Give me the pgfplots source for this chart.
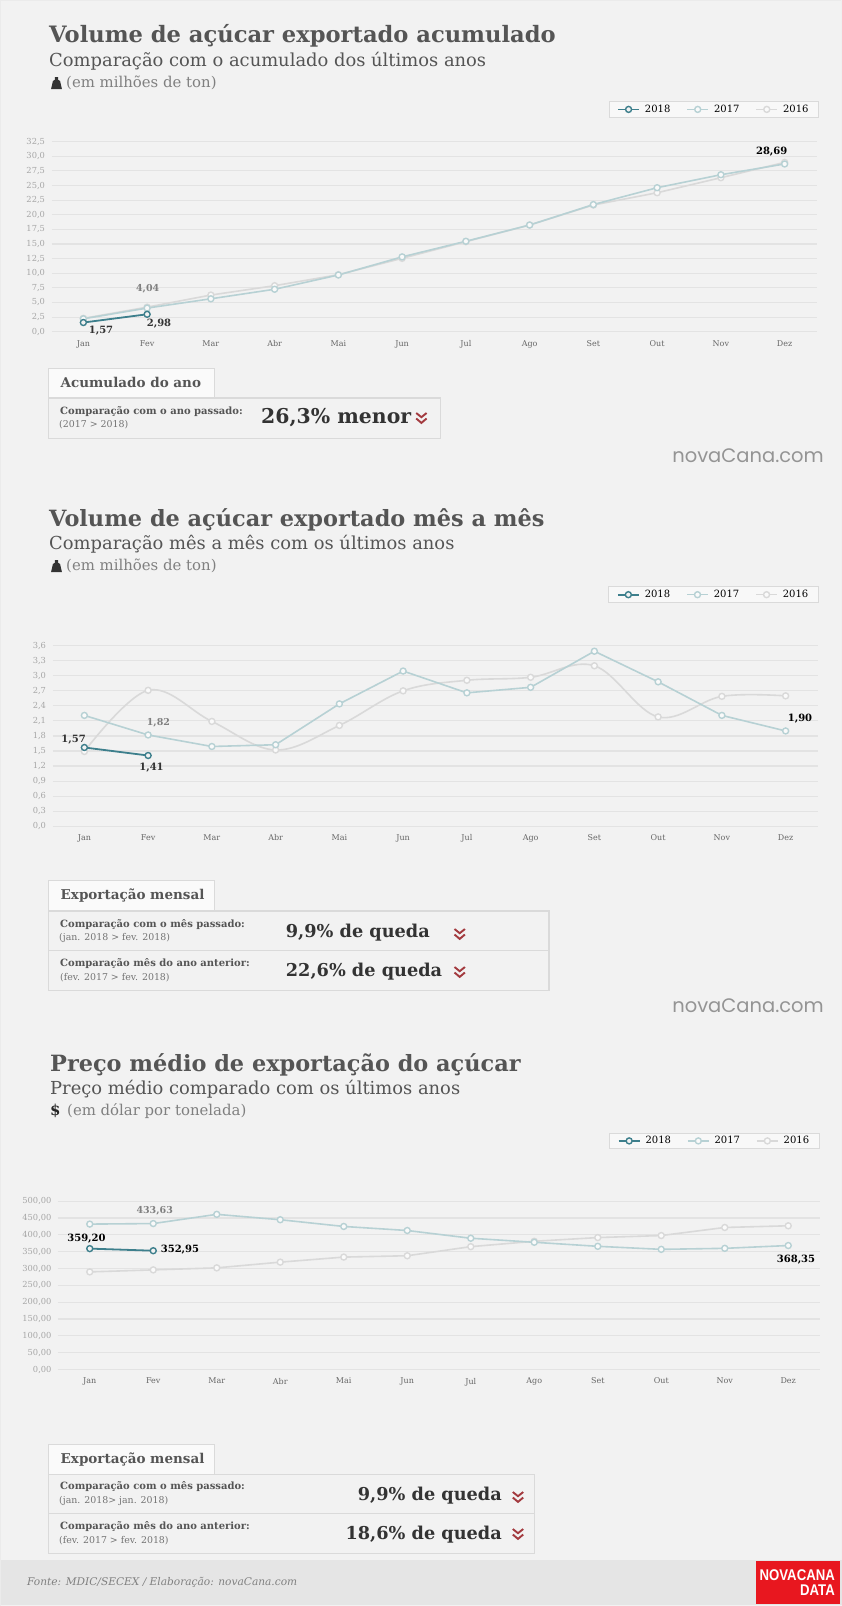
\documentclass[border=0pt]{standalone}
\usepackage{pgfplots}
\pgfplotsset{compat=1.18}
\usepackage{fontspec}
\setmainfont{DejaVu Serif}
\newfontfamily\nc{Poppins}
\newfontfamily\logof{Liberation Sans}[FakeStretch=0.85]
\definecolor{bg}{HTML}{F2F2F2}
\definecolor{gridc}{HTML}{E3E3E3}
\definecolor{cA}{HTML}{3D7F8C}
\definecolor{cB}{HTML}{B7D1D4}
\definecolor{cC}{HTML}{D9D9D9}
\definecolor{titlec}{HTML}{555555}
\definecolor{redc}{HTML}{A33A3F}
\definecolor{boxc}{HTML}{DADADA}
\definecolor{logor}{HTML}{E8171F}
\newcommand{\fs}[1]{\fontsize{#1pt}{#1pt}\selectfont}
\newcommand{\T}[4]{\node[inner sep=0pt,#3] at (#1pt,-#2pt) {#4};}
\newcommand{\chev}[2]{\begin{scope}[shift={(#1pt,-#2pt)},draw=redc,line width=1.9pt]
\draw (-5.2pt,5pt)--(0pt,0.8pt)--(5.2pt,5pt);\draw (-5.2pt,-0.5pt)--(0pt,-4.9pt)--(5.2pt,-0.5pt);\end{scope}}
\newcommand{\weight}[2]{\begin{scope}[shift={(#1pt,-#2pt)}]
\fill[black!80] (-5.4pt,-6pt)--(5.4pt,-6pt)--(3.6pt,2pt)--(1.6pt,3.2pt)--(1.6pt,6pt)--(-1.6pt,6pt)--(-1.6pt,3.2pt)--(-3.6pt,2pt)--cycle;\end{scope}}
\pgfplotsset{
 chart/.style={scale only axis,clip=false,enlargelimits=false,xmin=-0.5,xmax=11.5,
  xtick={0,...,11},xticklabels={Jan,Fev,Mar,Abr,Mai,Jun,Jul,Ago,Set,Out,Nov,Dez},
  axis line style={draw=none},major tick length=0pt,ymajorgrids,
  grid style={gridc,line width=1.1pt},
  xticklabel style={font=\fs{8},text=black!60,yshift=-5pt},
  yticklabel style={font=\fs{8.3},text=black!35,xshift=-3pt},
  tick label style={/pgf/number format/assume math mode=true},
  legend columns=3,reverse legend,
  legend image code/.code={\draw[mark repeat=2,mark phase=2,##1] plot coordinates {(0pt,0pt)(10.5pt,0pt)(21pt,0pt)};},
  legend style={draw=boxc,fill=bg!50!white,font=\fs{10},inner xsep=8pt,inner ysep=1.4pt,line width=1pt,
    /tikz/every even column/.append style={column sep=14pt},
    /tikz/every odd column/.append style={column sep=3pt}},
 },
 s18/.style={color=cA,line width=1.8pt,mark=*,mark size=3pt,mark options={fill=bg,draw=cA,line width=1.4pt,solid}},
 s17/.style={color=cB,line width=1.6pt,mark=*,mark size=3pt,mark options={fill=bg!40!white,draw=cB,line width=1.4pt,solid}},
 s16/.style={color=cC,line width=1.6pt,mark=*,mark size=3pt,mark options={fill=bg!40!white,draw=cC,line width=1.4pt,solid}},
}
\begin{document}
\begin{tikzpicture}[x=1pt,y=1pt]
\useasboundingbox (0,0) rectangle (842pt,-1606pt);
\fill[bg] (0,0) rectangle (842pt,-1606pt);
\draw[black!8,line width=2pt] (0,0)--(842pt,0);
\draw[black!8,line width=2pt] (0,0)--(0,-1606pt);
\draw[black!6,line width=2pt] (842pt,0)--(842pt,-1606pt);

% ---------- chart 1
\begin{axis}[chart,at={(51.5pt,-331.7pt)},anchor=south west,width=765pt,height=190pt,
 ymin=0,ymax=32.5,ytick={0,2.5,...,32.5},
 yticklabel style={/pgf/number format/.cd,fixed,fixed zerofill,precision=1,use comma},
 legend style={at={(1.0033,1.214)},anchor=north east}]
\addplot[s16] coordinates {(0,2.28)(1,4.2)(2,6.27)(3,7.87)(4,9.75)(5,12.55)(6,15.4)(7,18.25)(8,21.67)(9,23.77)(10,26.34)(11,28.96)};
\addplot[s17] coordinates {(0,2.21)(1,4.04)(2,5.63)(3,7.26)(4,9.7)(5,12.8)(6,15.47)(7,18.25)(8,21.75)(9,24.63)(10,26.85)(11,28.69)};
\addplot[s18] coordinates {(0,1.57)(1,2.98)};
\legend{2016,2017,2018}
\end{axis}
\T{49}{36}{anchor=west}{\fs{22.6}\bfseries\color{titlec}Volume de açúcar exportado acumulado}
\T{49}{61}{anchor=west}{\fs{17.9}\color{titlec}Comparação com o acumulado dos últimos anos}
\weight{56.5}{83}
\T{66}{83}{anchor=west}{\fs{14.9}\color{black!50}(em milhões de ton)}
\T{101}{331}{}{\fs{10}\bfseries\color{black!80}1,57}
\T{159}{324}{}{\fs{10}\bfseries\color{black!80}2,98}
\T{147.7}{289}{}{\fs{9.5}\bfseries\color{black!50}4,04}
\T{771.7}{151.7}{}{\fs{10}\bfseries\color{black}28,69}
\draw[boxc,fill=bg!40!white,line width=1pt] (48.3pt,-398pt)--(48.3pt,-368pt)--(214pt,-368pt)--(214pt,-398pt)--cycle;
\draw[boxc,line width=1.2pt] (48.3pt,-398pt) rectangle (440.4pt,-438.3pt);
\T{60.5}{382.5}{anchor=west}{\fs{13.5}\bfseries\color{titlec}Acumulado do ano}
\T{60}{412}{anchor=west}{\fs{10}\bfseries\color{titlec}Comparação com o ano passado:}
\T{59}{425}{anchor=west}{\fs{9.4}\color{black!55}(2017 > 2018)}
\T{261}{418}{anchor=west}{\fs{20.4}\bfseries\color{black!80}26,3\% menor}
\chev{421.4}{418}
\T{824}{456}{anchor=east}{\fs{19.5}\nc\color{black!42}novaCana.com}

% ---------- chart 2
\begin{axis}[chart,at={(52.5pt,-826.2pt)},anchor=south west,width=765pt,height=180.5pt,
 ymin=0,ymax=3.6,ytick={0,0.3,0.6,0.9,1.2,1.5,1.8,2.1,2.4,2.7,3.0,3.3,3.6},
 yticklabel style={/pgf/number format/.cd,fixed,fixed zerofill,precision=1,use comma},
 legend style={at={(1.0017,1.329)},anchor=north east}]
\addplot[s16,smooth,tension=0.6] coordinates {(0,1.49)(1,2.71)(2,2.09)(3,1.52)(4,2.01)(5,2.70)(6,2.91)(7,2.97)(8,3.2)(9,2.18)(10,2.59)(11,2.60)};
\addplot[s17] coordinates {(0,2.21)(1,1.82)(2,1.59)(3,1.625)(4,2.44)(5,3.095)(6,2.66)(7,2.77)(8,3.49)(9,2.88)(10,2.21)(11,1.90)};
\addplot[s18] coordinates {(0,1.57)(1,1.41)};
\legend{2016,2017,2018}
\end{axis}
\T{49}{520}{anchor=west}{\fs{22.4}\bfseries\color{titlec}Volume de açúcar exportado mês a mês}
\T{49}{544}{anchor=west}{\fs{17.9}\color{titlec}Comparação mês a mês com os últimos anos}
\weight{56.5}{566}
\T{66}{566}{anchor=west}{\fs{14.9}\color{black!50}(em milhões de ton)}
\T{73.6}{739.7}{}{\fs{10}\bfseries\color{black!80}1,57}
\T{158.4}{723}{}{\fs{9.5}\bfseries\color{black!50}1,82}
\T{151.5}{768}{}{\fs{10}\bfseries\color{black!80}1,41}
\T{800}{718.7}{}{\fs{10}\bfseries\color{black}1,90}
\draw[boxc,fill=bg!40!white,line width=1pt] (48.3pt,-911pt)--(48.3pt,-880.3pt)--(214pt,-880.3pt)--(214pt,-911pt)--cycle;
\draw[boxc,line width=1.2pt] (48.3pt,-911pt) rectangle (549pt,-950.6pt);
\draw[boxc,line width=1.2pt] (48.3pt,-950.6pt) rectangle (549pt,-990.5pt);
\T{60.5}{896}{anchor=west}{\fs{13.5}\bfseries\color{titlec}Exportação mensal}
\T{60}{925}{anchor=west}{\fs{10}\bfseries\color{titlec}Comparação com o mês passado:}
\T{59}{938}{anchor=west}{\fs{9.4}\color{black!55}(jan. 2018 > fev. 2018)}
\T{60}{964}{anchor=west}{\fs{10}\bfseries\color{titlec}Comparação mês do ano anterior:}
\T{60}{977.7}{anchor=west}{\fs{9.4}\color{black!55}(fev. 2017 > fev. 2018)}
\T{285.7}{933}{anchor=west}{\fs{17.7}\bfseries\color{black!80}9,9\% de queda}
\T{285.7}{972}{anchor=west}{\fs{17.7}\bfseries\color{black!80}22,6\% de queda}
\chev{459.7}{934}
\chev{459.7}{972}
\T{824}{1006}{anchor=east}{\fs{19.5}\nc\color{black!42}novaCana.com}

% ---------- chart 3
\begin{axis}[chart,at={(58pt,-1369.5pt)},anchor=south west,width=762pt,height=168.3pt,
 ymin=0,ymax=500,ytick={0,50,...,500},
 yticklabel style={/pgf/number format/.cd,fixed,fixed zerofill,precision=2,use comma,1000 sep={}},
 legend style={at={(0.9995,1.408)},anchor=north east}]
\addplot[s16] coordinates {(0,290)(1,296)(2,302)(3,319)(4,334)(5,338)(6,365)(7,381)(8,392)(9,398)(10,422)(11,427)};
\addplot[s17] coordinates {(0,432)(1,433.63)(2,461)(3,445)(4,425)(5,413)(6,390)(7,378)(8,366)(9,357)(10,360)(11,368.35)};
\addplot[s18] coordinates {(0,359.2)(1,352.95)};
\legend{2016,2017,2018}
\end{axis}
\T{50}{1065}{anchor=west}{\fs{22.4}\bfseries\color{titlec}Preço médio de exportação do açúcar}
\T{50}{1089}{anchor=west}{\fs{17.9}\color{titlec}Preço médio comparado com os últimos anos}
\T{50}{1111}{anchor=west}{\fs{15}\bfseries\color{black!85}\$}
\T{67}{1111}{anchor=west}{\fs{14.9}\color{black!50}(em dólar por tonelada)}
\T{86.5}{1238.7}{}{\fs{10}\bfseries\color{black}359,20}
\T{154.7}{1211}{}{\fs{9.5}\bfseries\color{black!50}433,63}
\T{180}{1249.7}{}{\fs{10}\bfseries\color{black}352,95}
\T{796}{1259.6}{}{\fs{10}\bfseries\color{black}368,35}
\draw[boxc,fill=bg!40!white,line width=1pt] (48.3pt,-1474.5pt)--(48.3pt,-1444.4pt)--(214pt,-1444.4pt)--(214pt,-1474.5pt)--cycle;
\draw[boxc,line width=1.2pt] (48.3pt,-1474.5pt) rectangle (534.4pt,-1513.8pt);
\draw[boxc,line width=1.2pt] (48.3pt,-1513.8pt) rectangle (534.4pt,-1553.5pt);
\T{60.5}{1459.5}{anchor=west}{\fs{13.5}\bfseries\color{titlec}Exportação mensal}
\T{60}{1487}{anchor=west}{\fs{10}\bfseries\color{titlec}Comparação com o mês passado:}
\T{59}{1501}{anchor=west}{\fs{9.4}\color{black!55}(jan. 2018> jan. 2018)}
\T{60}{1526.7}{anchor=west}{\fs{10}\bfseries\color{titlec}Comparação mês do ano anterior:}
\T{59}{1540.7}{anchor=west}{\fs{9.4}\color{black!55}(fev. 2017 > fev. 2018)}
\T{502}{1496}{anchor=east}{\fs{17.7}\bfseries\color{black!80}9,9\% de queda}
\T{502}{1535}{anchor=east}{\fs{17.7}\bfseries\color{black!80}18,6\% de queda}
\chev{518}{1497}
\chev{518}{1534}
% ---------- footer
\fill[black!10] (1pt,-1560pt) rectangle (842pt,-1605pt);
\T{27}{1582}{anchor=west}{\fs{10.6}\itshape\color{black!50}Fonte: MDIC/SECEX / Elaboração: novaCana.com}
\fill[logor] (755.7pt,-1561pt) rectangle (840pt,-1604pt);
\T{835}{1575.5}{anchor=east}{\fs{15.5}\logof\bfseries\color{white}NOVACANA}
\T{835}{1590.5}{anchor=east}{\fs{15.5}\logof\bfseries\color{white}DATA}
\end{tikzpicture}
\end{document}
